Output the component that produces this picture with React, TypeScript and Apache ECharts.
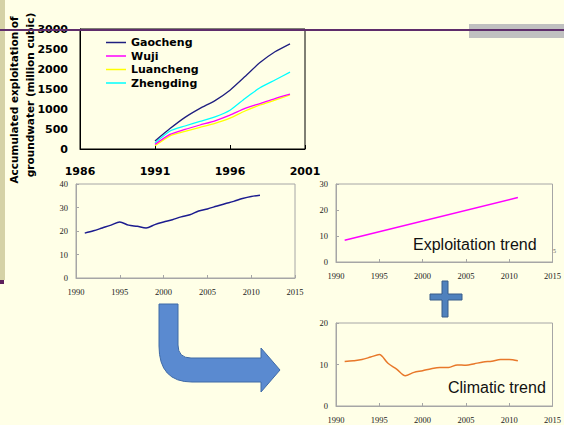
import React, { useEffect, useRef } from "react";
import * as echarts from "echarts";

// Accumulated groundwater exploitation by county (million cubic metres)
const countyYears = [1991, 1992, 1993, 1994, 1995, 1996, 1997, 1998, 1999, 2000];
const gaocheng = [200, 510, 790, 1015, 1210, 1470, 1810, 2160, 2430, 2630];
const wuji = [115, 365, 490, 600, 705, 845, 1015, 1135, 1260, 1370];
const luancheng = [80, 330, 440, 540, 640, 770, 950, 1100, 1220, 1350];
const zhengding = [150, 450, 575, 690, 805, 970, 1265, 1530, 1725, 1920];

// Groundwater depth series and its two components
const trendYears = [
  1991, 1992, 1993, 1994, 1995, 1996, 1997, 1998, 1999, 2000, 2001,
  2002, 2003, 2004, 2005, 2006, 2007, 2008, 2009, 2010, 2011,
];
const totalDepth = [
  19.1, 20.1, 21.3, 22.5, 23.8, 22.5, 22.0, 21.3, 22.7, 23.8, 24.8,
  26.0, 26.9, 28.5, 29.4, 30.5, 31.6, 32.6, 33.8, 34.7, 35.2,
];
const exploitationTrend = [8.4, 24.8];
const exploitationYears = [1991, 2011];
const climaticTrend = [
  10.7, 10.9, 11.2, 11.8, 12.4, 10.3, 8.9, 7.3, 8.1, 8.5, 9.0,
  9.3, 9.3, 9.9, 9.8, 10.2, 10.6, 10.8, 11.2, 11.2, 10.9,
];

const countyNames = ["Gaocheng", "Wuji", "Luancheng", "Zhengding"];
const countyColors = ["#1f1f80", "#ff00ff", "#ffff00", "#00ffff"];
const countySeries = [gaocheng, wuji, luancheng, zhengding];

const BOLD_FONT = "DejaVu Sans";
const SMALL_FONT = "Liberation Serif";

const pairs = (xs: number[], ys: number[]) => xs.map((x, i) => [x, ys[i]]);

const ARROW_PATH =
  "M159 304 L178 304 L178 345 Q178 358 191 358 L261 358 L261 348 L280 370 L261 392 L261 382 L192 382 Q159 382 159 346 Z";

echarts.graphic.registerShape("bendArrow", (echarts.graphic as any).extendPath(ARROW_PATH, {}));

function smallValueAxes(gridIndex: number, yMax: number) {
  const xAxis = {
    type: "value",
    gridIndex,
    min: 1990,
    max: 2015,
    interval: 5,
    axisLine: { show: true, lineStyle: { color: "#a6a6a6", width: 1 } },
    axisTick: { show: true, inside: true, length: 3, lineStyle: { color: "#a6a6a6" } },
    splitLine: { show: false },
    axisLabel: {
      margin: 9,
      fontFamily: SMALL_FONT,
      fontSize: 8.5,
      color: "#222",
      formatter: (v: number) => String(v),
    },
  };
  const yAxis = {
    type: "value",
    gridIndex,
    min: 0,
    max: yMax,
    interval: 10,
    axisLine: { show: true, lineStyle: { color: "#a6a6a6", width: 1 } },
    axisTick: { show: true, inside: true, length: 3, lineStyle: { color: "#a6a6a6" } },
    splitLine: { show: false },
    axisLabel: {
      margin: 8,
      fontFamily: SMALL_FONT,
      fontSize: 8.5,
      color: "#222",
      formatter: (v: number) => String(v),
    },
  };
  return { xAxis, yAxis };
}

export default function App() {
  const ref = useRef<HTMLDivElement>(null);

  useEffect(() => {
    document.body.style.margin = "0";
    if (!ref.current) return;
    const chart = echarts.init(ref.current, undefined, { renderer: "svg" });

    const a2 = smallValueAxes(1, 40);
    const a3 = smallValueAxes(2, 30);
    const a4 = smallValueAxes(3, 20);

    const option: any = {
      animation: false,
      backgroundColor: "#ffffe7",
      grid: [
        { left: 80, top: 29, width: 225, height: 120, show: true, borderColor: "#000", borderWidth: 1, backgroundColor: "transparent" },
        { left: 76, top: 184, width: 219, height: 94, show: true, borderColor: "#a6a6a6", borderWidth: 1, backgroundColor: "transparent" },
        { left: 336, top: 184, width: 219, height: 78, show: true, borderColor: "#a6a6a6", borderWidth: 1, backgroundColor: "transparent" },
        { left: 336, top: 323, width: 219, height: 83, show: true, borderColor: "#a6a6a6", borderWidth: 1, backgroundColor: "transparent" },
      ],
      xAxis: [
        {
          type: "value",
          gridIndex: 0,
          min: 1986,
          max: 2001,
          interval: 5,
          axisLine: { show: true, lineStyle: { color: "#000", width: 1 } },
          axisTick: { show: true, inside: true, length: 4, lineStyle: { color: "#000" } },
          splitLine: { show: false },
          axisLabel: {
            margin: 17,
            fontFamily: BOLD_FONT,
            fontWeight: "bold",
            fontSize: 11,
            color: "#000",
            formatter: (v: number) => String(v),
          },
        },
        a2.xAxis,
        a3.xAxis,
        a4.xAxis,
      ],
      yAxis: [
        {
          type: "value",
          gridIndex: 0,
          min: 0,
          max: 3000,
          interval: 500,
          axisLine: { show: true, lineStyle: { color: "#000", width: 1 } },
          axisTick: { show: false },
          splitLine: { show: false },
          axisLabel: {
            margin: 12,
            fontFamily: BOLD_FONT,
            fontWeight: "bold",
            fontSize: 11,
            color: "#000",
            formatter: (v: number) => String(v),
          },
        },
        a2.yAxis,
        a3.yAxis,
        a4.yAxis,
      ],
      legend: {
        orient: "vertical",
        left: 101,
        top: 31,
        itemWidth: 20,
        itemHeight: 1.5,
        itemGap: 0.5,
        icon: "rect",
        data: countyNames,
        textStyle: {
          fontFamily: BOLD_FONT,
          fontWeight: "bold",
          fontSize: 11,
          lineHeight: 13,
          color: "#000",
        },
      },
      series: [
        ...countySeries.map((vals, i) => ({
          name: countyNames[i],
          type: "line",
          xAxisIndex: 0,
          yAxisIndex: 0,
          data: pairs(countyYears, vals),
          showSymbol: false,
          smooth: 0.2,
          lineStyle: { color: countyColors[i], width: 1.3 },
          itemStyle: { color: countyColors[i] },
          z: 4 - i,
        })),
        {
          type: "line",
          xAxisIndex: 1,
          yAxisIndex: 1,
          data: pairs(trendYears, totalDepth),
          showSymbol: false,
          smooth: 0.3,
          lineStyle: { color: "#1c1c8f", width: 1.5 },
        },
        {
          type: "line",
          xAxisIndex: 2,
          yAxisIndex: 2,
          data: pairs(exploitationYears, exploitationTrend),
          showSymbol: false,
          lineStyle: { color: "#ff00ff", width: 1.5 },
        },
        {
          type: "line",
          xAxisIndex: 3,
          yAxisIndex: 3,
          data: pairs(trendYears, climaticTrend),
          showSymbol: false,
          smooth: 0.3,
          lineStyle: { color: "#e8782a", width: 1.5 },
        },
      ],
      graphic: [
        // slide decorations
        { type: "rect", shape: { x: 0, y: 0, width: 5, height: 280 }, style: { fill: "#d5d2a6" }, z: 0 },
        { type: "rect", shape: { x: 0, y: 280, width: 4, height: 4 }, style: { fill: "#5c1f5c" }, z: 0 },
        { type: "rect", shape: { x: 469, y: 24, width: 95, height: 14 }, style: { fill: "#c0c0c0" }, z: 10 },
        { type: "line", shape: { x1: 0, y1: 30, x2: 564, y2: 30 }, style: { stroke: "#5f2d6b", lineWidth: 2 }, z: 11 },
        // y-axis title of the county chart
        {
          type: "text",
          x: 14,
          y: 100,
          rotation: Math.PI / 2,
          style: {
            text: "Accumulated exploitation of",
            fontFamily: BOLD_FONT,
            fontWeight: "bold",
            fontSize: 10.5,
            fill: "#000",
            align: "center",
            verticalAlign: "middle",
          },
          z: 10,
        },
        {
          type: "text",
          x: 30,
          y: 95,
          rotation: Math.PI / 2,
          style: {
            text: "groundwater (million cubic)",
            fontFamily: BOLD_FONT,
            fontWeight: "bold",
            fontSize: 10.5,
            fill: "#000",
            align: "center",
            verticalAlign: "middle",
          },
          z: 10,
        },
        // panel captions
        {
          type: "text",
          x: 413,
          y: 244,
          style: {
            text: "Exploitation trend",
            fontFamily: "Liberation Sans",
            fontSize: 16,
            fill: "#111",
            verticalAlign: "middle",
          },
          z: 10,
        },
        {
          type: "text",
          x: 448,
          y: 387,
          style: {
            text: "Climatic trend",
            fontFamily: "Liberation Sans",
            fontSize: 16,
            fill: "#111",
            verticalAlign: "middle",
          },
          z: 10,
        },
        {
          type: "text",
          x: 553,
          y: 251,
          style: { text: "5", fontFamily: SMALL_FONT, fontSize: 6, fill: "#555", verticalAlign: "middle" },
          z: 10,
        },
        // plus sign
        {
          type: "polygon",
          shape: {
            points: [
              [442, 281], [448, 281], [448, 294], [462, 294], [462, 300], [448, 300],
              [448, 317], [442, 317], [442, 300], [430, 300], [430, 294], [442, 294],
            ],
          },
          style: { fill: "#4f81bd", stroke: "#385d8a", lineWidth: 1 },
          z: 10,
        },
        // bent arrow
        {
          type: "bendArrow",
          x: 0,
          y: 0,
          style: { fill: "#5a8ad0", stroke: "#3f6aa6", lineWidth: 1 },
          z: 10,
        },
      ],
    };

    chart.setOption(option);
    return () => chart.dispose();
  }, []);

  return <div ref={ref} style={{ width: 564, height: 425 }} />;
}
